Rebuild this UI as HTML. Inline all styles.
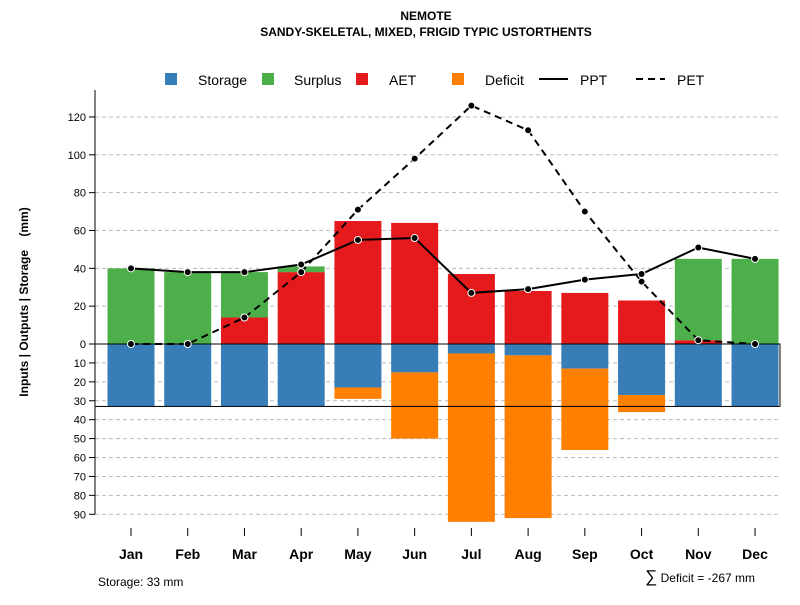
<!DOCTYPE html>
<html><head><meta charset="utf-8"><style>
body{margin:0;background:#fff}
svg text{font-family:"Liberation Sans",sans-serif}
</style></head><body>
<svg id="chart" width="800" height="600" xmlns="http://www.w3.org/2000/svg">
<text x="426" y="20" text-anchor="middle" font-size="12" font-weight="bold">NEMOTE</text>
<text x="426" y="36" text-anchor="middle" font-size="12" font-weight="bold">SANDY-SKELETAL, MIXED, FRIGID TYPIC USTORTHENTS</text>
<g>
<rect x="165" y="73" width="12" height="12" fill="#377eb8"/>
<text x="198" y="85" font-size="14">Storage</text>
<rect x="262" y="73" width="12" height="12" fill="#4daf4a"/>
<text x="294" y="85" font-size="14">Surplus</text>
<rect x="356" y="73" width="12" height="12" fill="#e41a1c"/>
<text x="389" y="85" font-size="14">AET</text>
<rect x="452" y="73" width="12" height="12" fill="#ff7f00"/>
<text x="485" y="85" font-size="14">Deficit</text>
<line x1="539" y1="79" x2="568" y2="79" stroke="#000" stroke-width="2"/>
<text x="580" y="85" font-size="14">PPT</text>
<line x1="636" y1="79" x2="665" y2="79" stroke="#000" stroke-width="2" stroke-dasharray="7,5"/>
<text x="677" y="85" font-size="14">PET</text>
</g>
<text transform="translate(28,302) rotate(-90)" text-anchor="middle" font-size="12" font-weight="bold" style="white-space:pre">Inputs | Outputs | Storage    (mm)</text>
<text x="98" y="586" font-size="12">Storage: 33 mm</text>
<text x="755" y="582" text-anchor="end" font-size="12"><tspan font-size="17">∑</tspan> Deficit = -267 mm</text>
<g id="plot"></g>
</svg>
<script>
const months=["Jan","Feb","Mar","Apr","May","Jun","Jul","Aug","Sep","Oct","Nov","Dec"];
const aet=[0,0,14,38,65,64,37,28,27,23,2,0];
const surplus=[40,38,24,3,0,0,0,0,0,0,43,45];
const storageUse=[33,33,33,33,23,15,5,6,13,27,33,33];
const deficit=[0,0,0,0,6,35,89,86,43,9,0,0];
const ppt=[40,38,38,42,55,56,27,29,34,37,51,45];
const pet=[0,0,14,38,71,98,126,113,70,33,2,0];
const posTicks=[0,20,40,60,80,100,120];
const negTicks=[10,20,30,40,50,60,70,80,90];
const storageCap=33;

const NS="http://www.w3.org/2000/svg";
const g=document.getElementById("plot");
const y=v=>344-v*1.892;
const x=i=>131+i*56.73;
const bw=47;
function mk(t,a){const e=document.createElementNS(NS,t);for(const k in a)e.setAttribute(k,a[k]);g.appendChild(e);return e;}
posTicks.forEach(v=>{
  if(v!==0){const l=mk("line",{x1:95,x2:780,y1:y(v),y2:y(v),stroke:"#bbb","stroke-dasharray":"4,3"});
  
  }
  const t=mk("line",{x1:89,x2:95,y1:y(v),y2:y(v),stroke:"#000"});
  
  
  const tx=mk("text",{x:86,y:y(v)+4,"text-anchor":"end","font-size":11});tx.textContent=v;
  
  
});
negTicks.forEach(v=>{
  const l=mk("line",{x1:95,x2:780,y1:y(-v),y2:y(-v),stroke:"#bbb","stroke-dasharray":"4,3"});
  
  
  const t=mk("line",{x1:89,x2:95,y1:y(-v),y2:y(-v),stroke:"#000"});
  
  
  const tx=mk("text",{x:86,y:y(-v)+4,"text-anchor":"end","font-size":11});tx.textContent=v;
  
  
});
const ax=mk("line",{x1:95,x2:95,y1:90,y2:y(-90),stroke:"#000"});


function bar(i,a,b,c,name){const top=Math.max(a,b),bot=Math.min(a,b);if(top===bot)return;
  const r=mk("rect",{x:x(i)-bw/2,y:y(top),width:bw,height:y(bot)-y(top),fill:c});
  
  }
months.forEach((m,i)=>{
  bar(i,0,aet[i],"#e41a1c","bar-aet-"+m.toLowerCase());
  bar(i,aet[i],aet[i]+surplus[i],"#4daf4a","bar-surplus-"+m.toLowerCase());
  bar(i,0,-storageUse[i],"#377eb8","bar-storage-"+m.toLowerCase());
  bar(i,-storageUse[i],-storageUse[i]-deficit[i],"#ff7f00","bar-deficit-"+m.toLowerCase());
  const t=mk("line",{x1:x(i),x2:x(i),y1:528,y2:536,stroke:"#000"});
  
  
  const tx=mk("text",{x:x(i),y:559,"text-anchor":"middle","font-size":14,"font-weight":"bold"});tx.textContent=m;
  
  
});
const box=mk("rect",{x:95,y:y(0),width:685,height:y(-storageCap)-y(0),fill:"none",stroke:"#000","stroke-width":1});


function series(vals,dash,name){
  const p=mk("polyline",{points:vals.map((v,i)=>x(i)+","+y(v)).join(" "),fill:"none",stroke:"#000","stroke-width":2,"stroke-dasharray":dash});
  
  
  vals.forEach((v,i)=>{const c=mk("circle",{cx:x(i),cy:y(v),r:3.5,fill:"#000",stroke:"#fff","stroke-width":1});
    
    });
}
series(pet,"7,5","pet");
series(ppt,"none","ppt");
</script>
</body></html>
